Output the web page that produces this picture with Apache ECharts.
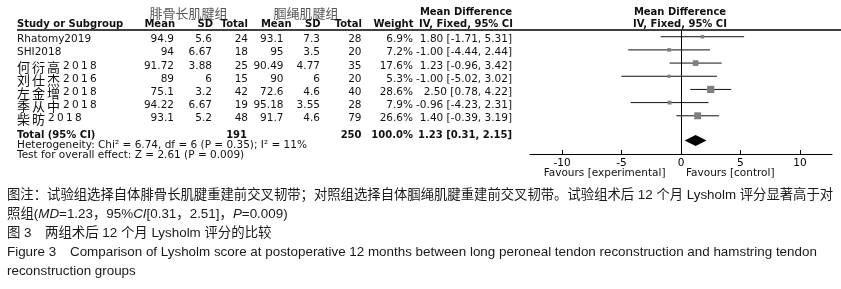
<!DOCTYPE html>
<html><head><meta charset="utf-8">
<script src="https://cdn.jsdelivr.net/npm/echarts@6/dist/echarts.min.js"></script>
<style>html,body{margin:0;padding:0;background:#fff}#c{width:841px;height:289px}</style>
</head><body><div id="c"></div>
<script>
// ---- data ----
const studies = ['Rhatomy2019','SHI2018','何衍高2018','刘仕杰2016','左金增2018','季从中2018','柴昉2018'];
const expMean = ['94.9','94','91.72','89','75.1','94.22','93.1'];
const expSD = ['5.6','6.67','3.88','6','3.2','6.67','5.2'];
const expTotal = [24,18,25,15,42,19,48];
const ctlMean = ['93.1','95','90.49','90','72.6','95.18','91.7'];
const ctlSD = ['7.3','3.5','4.77','6','4.6','3.55','4.6'];
const ctlTotal = [28,20,35,20,40,28,79];
const weights = [6.9,7.2,17.6,5.3,28.6,7.9,26.6];
const md = [1.80,-1.00,1.23,-1.00,2.50,-0.96,1.40];
const ciLow = [-1.71,-4.44,-0.96,-5.02,0.78,-4.23,-0.39];
const ciHigh = [5.31,2.44,3.42,3.02,4.22,2.31,3.19];
const totalExp = 191, totalCtl = 250, totalWeight = 100.0;
const totalMD = 1.23, totalLow = 0.31, totalHigh = 2.15;
const heterogeneity = 'Heterogeneity: Chi² = 6.74, df = 6 (P = 0.35); I² = 11%';
const overallTest = 'Test for overall effect: Z = 2.61 (P = 0.009)';
const xTicks = [-10,-5,0,5,10];
const favoursLeft = 'Favours [experimental]', favoursRight = 'Favours [control]';
const groupNames = ['腓骨长肌腱组','腘绳肌腱组'];
const colHeaders = ['Study or Subgroup','Mean','SD','Total','Mean','SD','Total','Weight'];
const mdHeader = ['Mean Difference','IV, Fixed, 95% CI'];
const caption1 = '图注：试验组选择自体腓骨长肌腱重建前交叉韧带；对照组选择自体腘绳肌腱重建前交叉韧带。试验组术后 12 个月 Lysholm 评分显著高于对';
const caption2 = '照组({i|MD}=1.23，95%{i|CI}[0.31，2.51]，{i|P}=0.009)';
const caption3 = ['图 3','两组术后 12 个月 Lysholm 评分的比较'];
const caption4 = ['Figure 3','Comparison of Lysholm score at postoperative 12 months between long peroneal tendon reconstruction and hamstring tendon'];
const caption5 = 'reconstruction groups';

// ---- layout ----
const TOTAL_ROW = 7.88;
const chart = echarts.init(document.getElementById('c'), null, {renderer:'canvas'});
const fmtCI = (m,l,h)=> m.toFixed(2)+' ['+l.toFixed(2)+', '+h.toFixed(2)+']';

chart.setOption({
  animation:false,
  grid:{left:530, right:9, top:30, height:124},
  xAxis:{type:'value', min:-12.7, max:12.7,
    axisLine:{show:true, onZero:false, lineStyle:{color:'#000', width:1}},
    axisTick:{show:true, inside:true, length:4, customValues:xTicks, lineStyle:{color:'#000'}},
    axisLabel:{show:true, customValues:xTicks, color:'#000', fontSize:10.5, fontFamily:'DejaVu Sans', margin:4},
    splitLine:{show:false}},
  yAxis:{type:'value', inverse:true, min:-0.51, max:8.9, show:false},
  series:[
    {type:'custom', name:'studies',
     data: studies.map((s,i)=>[ciLow[i], ciHigh[i], md[i], weights[i], i]),
     encode:{x:[0,1,2], y:4},
     renderItem:function(params, api){
       const y = api.value(4);
       const p1 = api.coord([api.value(0), y]);
       const p2 = api.coord([api.value(1), y]);
       const pm = api.coord([api.value(2), y]);
       const s = 1.35*Math.sqrt(api.value(3));
       return {type:'group', children:[
         {type:'line', shape:{x1:p1[0], y1:p1[1], x2:p2[0], y2:p2[1]}, style:{stroke:'#111', lineWidth:1}},
         {type:'rect', shape:{x:pm[0]-s/2, y:pm[1]-s/2, width:s, height:s}, style:{fill:'#7f7f7f'}}
       ]};
     },
     markLine:{silent:true, symbol:'none', label:{show:false},
       lineStyle:{color:'#000', width:1, type:'solid'}, data:[{xAxis:0}]}
    },
    {type:'custom', name:'total',
     data:[[totalLow, totalHigh, totalMD, TOTAL_ROW]],
     encode:{x:[0,1,2], y:3},
     renderItem:function(params, api){
       const y = api.value(3);
       const a = api.coord([api.value(0), y]);
       const b = api.coord([api.value(1), y]);
       const m = api.coord([api.value(2), y]);
       const h = 5.5;
       return {type:'polygon', shape:{points:[[a[0],a[1]],[m[0],m[1]-h],[b[0],b[1]],[m[0],m[1]+h]]}, style:{fill:'#000'}};
     }
    }
  ]
});

// ---- table text ----
const F = '10.5px "DejaVu Sans"';
const FB = 'bold 10px "DejaVu Sans"';
function T(text, x, y, o){
  const st = Object.assign({text:text, x:x, y:y, fill:'#111', font:F, textAlign:'left', textVerticalAlign:'middle', align:'left', verticalAlign:'middle'}, o||{});
  if (o && o.textAlign) st.align = o.textAlign;
  return {type:'text', silent:true, style:st};
}
const rowY = i => chart.convertToPixel({gridIndex:0}, [0, i])[1];
const g = [];
// header
g.push(T(groupNames[0], 188.5, 13.5, {font:'13px "Noto Sans CJK SC"', fill:'#555', textAlign:'center'}));
g.push(T(groupNames[1], 306, 13.5, {font:'13px "Noto Sans CJK SC"', fill:'#555', textAlign:'center'}));
g.push(T(mdHeader[0], 466, 12.5, {font:FB, textAlign:'center'}));
g.push(T(mdHeader[1], 466, 24, {font:FB, textAlign:'center'}));
g.push(T(mdHeader[0], 680, 12.5, {font:FB, textAlign:'center'}));
g.push(T(mdHeader[1], 680, 24, {font:FB, textAlign:'center'}));
const hdrX = [17, 175, 213, 248, 291.5, 320.5, 362, 413.5];
colHeaders.forEach((h,k)=> g.push(T(h, hdrX[k], 24, {font:FB, textAlign:k===0?'left':'right'})));
g.push({type:'line', silent:true, shape:{x1:17, y1:30, x2:841, y2:30}, style:{stroke:'#000', lineWidth:1.5}});

// study names: CJK part and trailing digits drawn as separate texts
const CJK = /^([\u4e00-\u9fff]+)(.*)$/;
const dataX = [174, 212, 248, 283.5, 320, 361.5, 413, 512];
studies.forEach((s,i)=>{
  const y = rowY(i) + 2.7;
  const m = s.match(CJK);
  if (m) {
    const cj = m[1], rest = m[2];
    cj.split('').forEach((ch,k)=> g.push(T(ch, 17 + k*15, y + 1, {font:'13px "Noto Sans CJK SC"'})));
    const x0 = 17 + cj.length*15 + 1;
    rest.split('').forEach((ch,k)=> g.push(T(ch, x0 + k*9, y)));
  } else g.push(T(s, 17, y));
  const vals = [expMean[i], expSD[i], String(expTotal[i]), ctlMean[i], ctlSD[i], String(ctlTotal[i]), weights[i].toFixed(1)+'%', fmtCI(md[i], ciLow[i], ciHigh[i])];
  vals.forEach((v,k)=> g.push(T(v, dataX[k], y, {textAlign:'right'})));
});
const ty = 135;
g.push(T('Total (95% CI)', 17, ty, {font:FB}));
g.push(T(String(totalExp), 247, ty, {font:FB, textAlign:'right'}));
g.push(T(String(totalCtl), 361.5, ty, {font:FB, textAlign:'right'}));
g.push(T(totalWeight.toFixed(1)+'%', 413, ty, {font:FB, textAlign:'right'}));
g.push(T(fmtCI(totalMD, totalLow, totalHigh), 512, ty, {font:FB, textAlign:'right'}));
g.push(T(heterogeneity, 17, 145.5));
g.push(T(overallTest, 17, 155.5));
g.push(T(favoursLeft, 665.5, 173, {textAlign:'right'}));
g.push(T(favoursRight, 686, 173));

// ---- caption ----
const CF = '13.4px "Liberation Sans", "Noto Sans CJK SC"';
const cc = '#1a1a1a';
g.push(T(caption1, 7, 195, {font:'13.35px "Liberation Sans", "Noto Sans CJK SC"', fill:cc}));
g.push(T(caption2, 7, 214, {font:CF, fill:cc, rich:{i:{font:'italic 13.4px "Liberation Sans"', fill:cc}}}));
g.push(T(caption3[0], 7, 233, {font:CF, fill:cc}));
g.push(T(caption3[1], 45, 233, {font:CF, fill:cc}));
g.push(T(caption4[0], 7, 252, {font:CF, fill:cc}));
g.push(T(caption4[1], 70, 252, {font:CF, fill:cc}));
g.push(T(caption5, 7, 271, {font:CF, fill:cc}));

chart.setOption({graphic:{elements:g}});
</script>
</body></html>
